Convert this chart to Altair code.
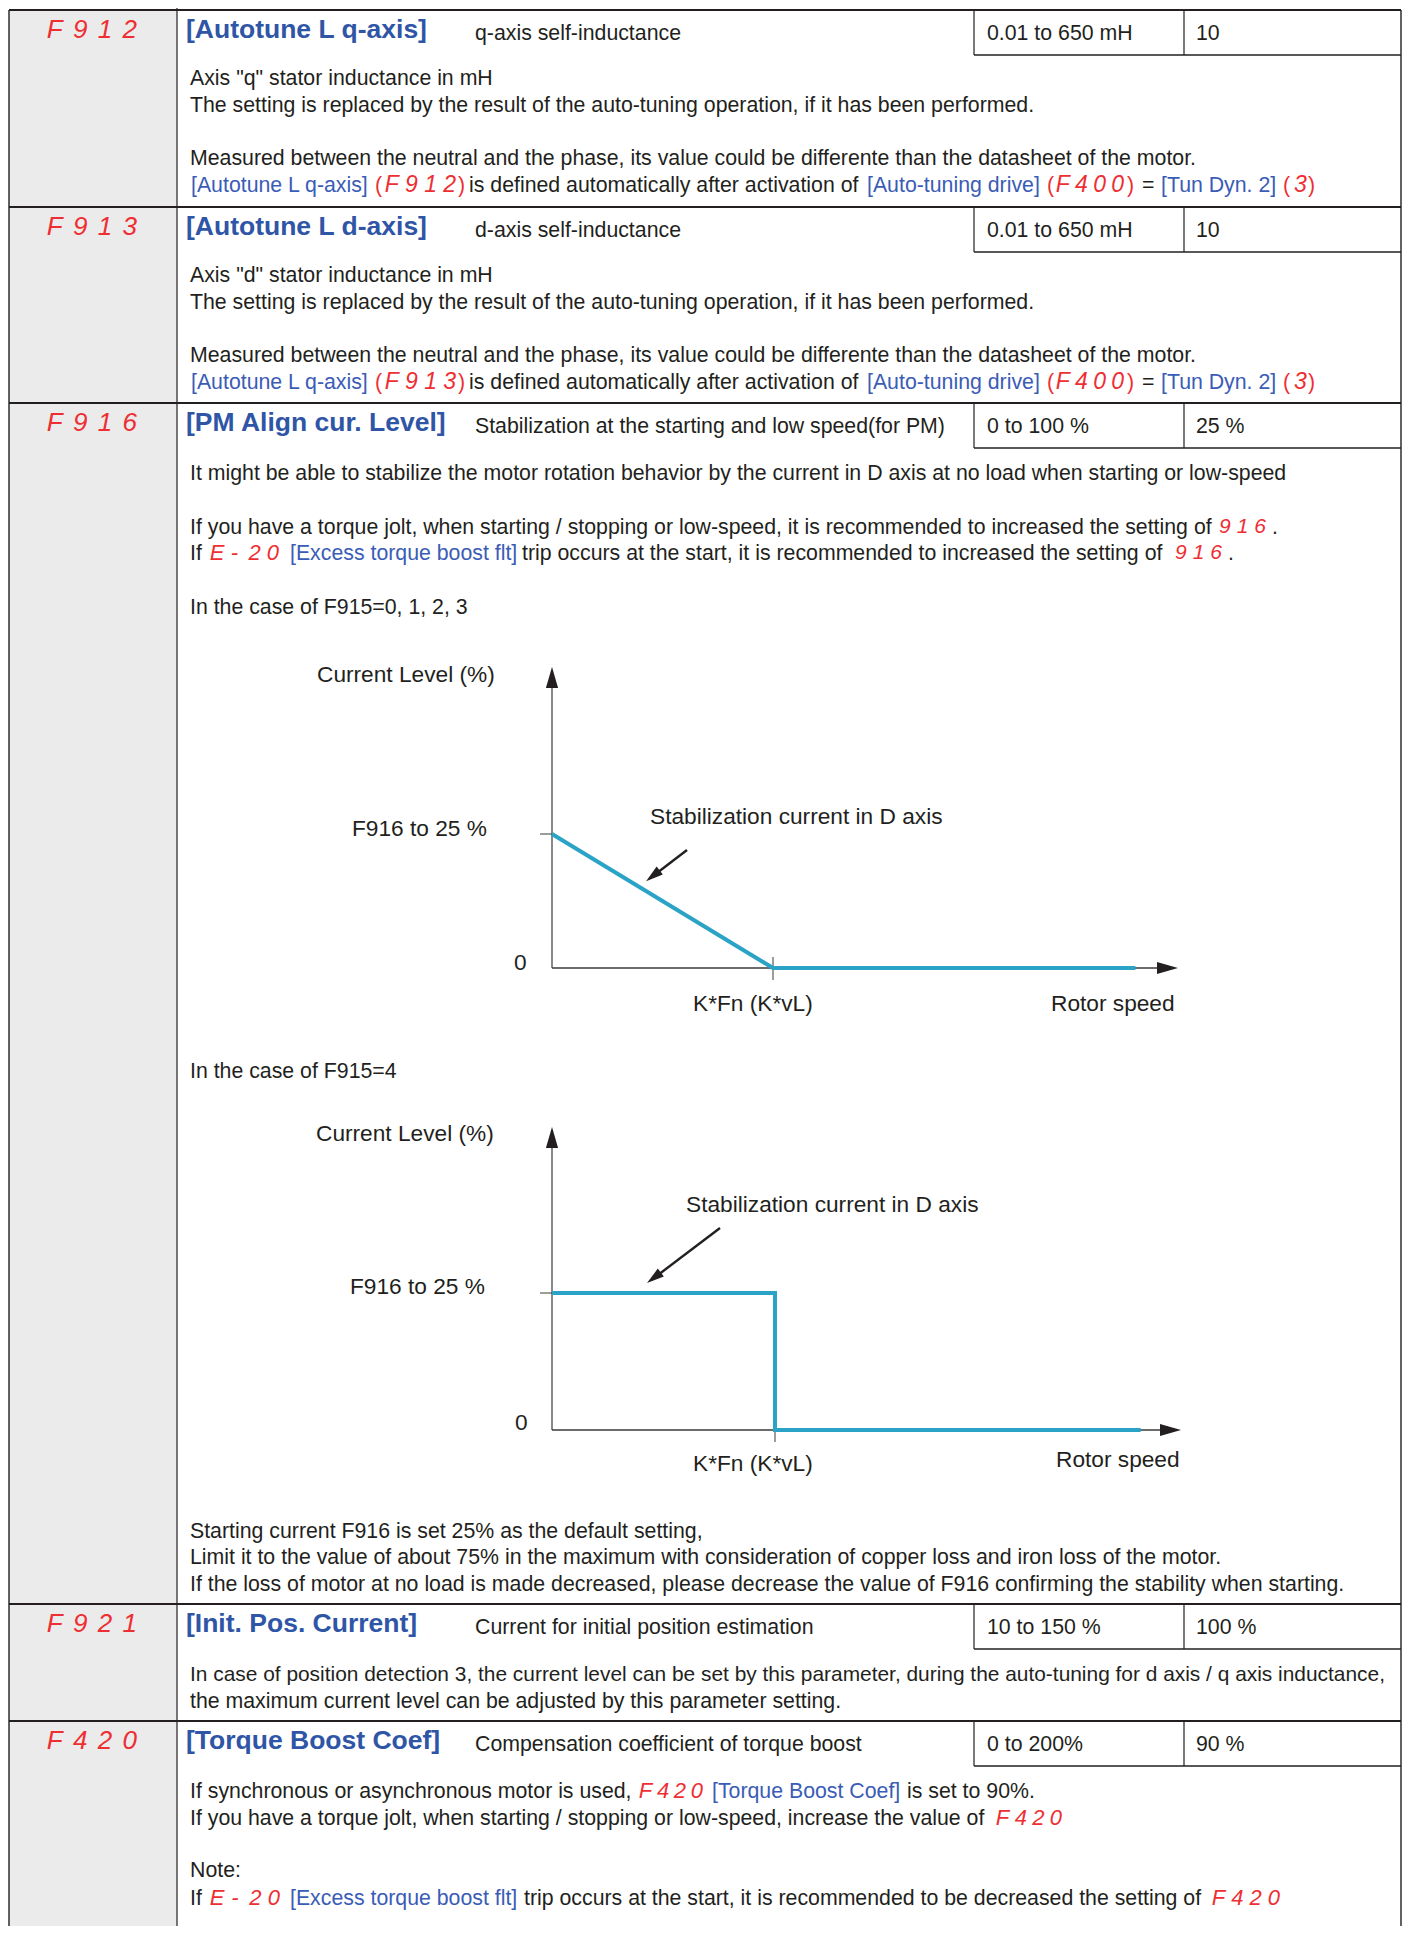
import altair as alt
import pandas as pd

# ---------------- content ----------------
codes = ["F912", "F913", "F916", "F921", "F420"]
titles = ["[Autotune L q-axis]", "[Autotune L d-axis]", "[PM Align cur. Level]",
          "[Init. Pos. Current]", "[Torque Boost Coef]"]
subtitles = ["q-axis self-inductance", "d-axis self-inductance",
             "Stabilization at the starting and low speed(for PM)",
             "Current for initial position estimation",
             "Compensation coefficient of torque boost"]
ranges = ["0.01 to 650 mH", "0.01 to 650 mH", "0 to 100 %", "10 to 150 %", "0 to 200%"]
defaults = ["10", "10", "25 %", "100 %", "90 %"]

# diagram series (speed in units of K*Fn, current level in %)
d1_speed = [0, 1, 2.64]
d1_level = [25, 0, 0]
d2_speed = [0, 1, 1, 2.64]
d2_level = [25, 25, 0, 0]
diag_labels = ["Current Level (%)", "F916 to 25 %", "0", "K*Fn (K*vL)", "Rotor speed",
               "Stabilization current in D axis"]

# ---------------- layout (page pixels) ----------------
row_tops = [10, 207, 403, 1604, 1721]
BLACK = "#231f20"
RED = "#ee2e32"
LINK = "#3a5cb6"
TITLE = "#2f55a6"
TEAL = "#2ba3c6"
BODY = 21.3
TY = 1.5  # vertical nudge for regular text
RIGHT = 1401

texts = []


def seg(t, x, y, kind, size=None):
    style = {"body": ("regular", BLACK, BODY, "left", TY), "link": ("regular", LINK, BODY, "left", TY),
             "paren": ("regular", RED, BODY, "left", TY),
             "title": ("bold", TITLE, 26.5, "left", 2), "diag": ("regular", BLACK, 22.7, "left", TY)}[kind]
    texts.append({"t": t, "x": x, "y": y + style[4], "s": size or style[2], "c": style[1],
                  "k": style[0], "al": style[3]})


def code(chars, x0, x1, y, size):
    # seven-segment style code: each character right-aligned in an evenly spaced cell
    w = 0.56 * size
    n = len(chars)
    pitch = (x1 - x0 - w) / (n - 1) if n > 1 else 0
    for i, ch in enumerate(chars):
        shift = -0.2 * size if ch == "-" else 0
        texts.append({"t": ch, "x": x0 + w + i * pitch + shift, "y": y, "s": size, "c": RED,
                      "k": "italic", "al": "right"})


# header rows
for i, top in enumerate(row_tops):
    code(codes[i], 48, 137, top + 20, 26)
    seg(titles[i], 186, top + 18, "title")
    seg(subtitles[i], 475, top + 22, "body")
    seg(ranges[i], 987, top + 22, "body")
    seg(defaults[i], 1196, top + 22, "body")

# row 1 / row 2 bodies
for top, axis, cd in [(10, "q", "F912"), (207, "d", "F913")]:
    seg('Axis "%s" stator inductance in mH' % axis, 190, top + 67, "body")
    seg("The setting is replaced by the result of the auto-tuning operation, if it has been performed.",
        190, top + 94, "body")
    seg("Measured between the neutral and the phase, its value could be differente than the datasheet of the motor.",
        190, top + 147, "body")
    y = top + 174
    seg("[Autotune L q-axis]", 191, y, "link")
    seg("(", 375, y, "paren")
    code(cd, 386, 456, y + 1, 23)
    seg(")", 458, y, "paren")
    seg("is defined automatically after activation of", 469, y, "body")
    seg("[Auto-tuning drive]", 867, y, "link")
    seg("(", 1047, y, "paren")
    code("F400", 1057, 1124, y + 1, 23)
    seg(")", 1127, y, "paren")
    seg("=", 1142, y, "body")
    seg("[Tun Dyn. 2]", 1161, y, "link")
    seg("(", 1283, y, "paren")
    code("3", 1294, 1307, y + 1, 23)
    seg(")", 1308, y, "paren")

# row 3 body
seg("It might be able to stabilize the motor rotation behavior by the current in D axis at no load when starting or low-speed",
    190, 472, "body")
seg("If you have a torque jolt, when starting / stopping or low-speed, it is recommended to increased the setting of",
    190, 526, "body")
code("916", 1219, 1266, 527, 21)
seg(".", 1272, 526, "body")
seg("If", 190, 552, "body")
code("E-20", 212, 279, 553, 22)
seg("[Excess torque boost flt]", 290, 552, "link")
seg("trip occurs at the start, it is recommended to increased the setting of", 522, 552, "body")
code("916", 1175, 1222, 553, 21)
seg(".", 1228, 552, "body")
seg("In the case of F915=0, 1, 2, 3", 190, 606, "body")
seg("In the case of F915=4", 190, 1070, "body")
seg("Starting current F916 is set 25% as the default setting,", 190, 1530, "body")
seg("Limit it to the value of about 75% in the maximum with consideration of copper loss and iron loss of the motor.",
    190, 1556, "body")
seg("If the loss of motor at no load is made decreased, please decrease the value of F916 confirming the stability when starting.",
    190, 1583, "body")

# row 4 body
seg("In case of position detection 3, the current level can be set by this parameter, during the auto-tuning for d axis / q axis inductance,",
    190, 1673, "body", 20.9)
seg("the maximum current level can be adjusted by this parameter setting.", 190, 1700, "body")

# row 5 body
seg("If synchronous or asynchronous motor is used,", 190, 1790, "body")
code("F420", 640, 703, 1791, 22)
seg("[Torque Boost Coef]", 712, 1790, "link")
seg("is set to 90%.", 907, 1790, "body")
seg("If you have a torque jolt, when starting / stopping or low-speed, increase the value of", 190, 1817, "body")
code("F420", 997, 1062, 1818, 22)
seg("Note:", 190, 1869, "body")
seg("If", 190, 1897, "body")
code("E-20", 212, 280, 1898, 22)
seg("[Excess torque boost flt]", 290, 1897, "link")
seg("trip occurs at the start, it is recommended to be decreased the setting of", 524, 1897, "body")
code("F420", 1213, 1280, 1898, 22)

# diagram labels
for (oy, lx) in [(968, [(317, -295), (352, -141), (514, -7), (693, 34), (1051, 34), (650, -153)]),
                 (1430, [(316, -298), (350, -145), (515, -9), (693, 32), (1056, 28), (686, -227)])]:
    for lab, (x, dy) in zip(diag_labels, lx):
        seg(lab, x, oy + dy, "diag")

tdf = pd.DataFrame(texts)

# ---------------- table lines ----------------
rules = []
for top in row_tops:
    rules.append((9, top, RIGHT, top, 2.0, BLACK))
    rules.append((974, top + 45, RIGHT, top + 45, 1.6, BLACK))
    rules.append((974, top, 974, top + 45, 1.2, BLACK))
    rules.append((1184, top, 1184, top + 45, 1.2, BLACK))
rules.append((9, 10, 9, 1940, 1.4, BLACK))
rules.append((177, 4, 177, 1940, 1.2, BLACK))
rules.append((RIGHT, 10, RIGHT, 1940, 1.4, BLACK))

# diagram axes / ticks / annotation arrows
AX = "#3a3a3a"
for oy, topy, xend, kx, ky, ay0, ay1 in [(968, 678, 1168, 773, 834, (687, 850), (653, 876)),
                                          (1430, 1138, 1171, 775, 1293, (720, 1228), (654, 1278))]:
    rules.append((552, topy, 552, oy, 1.2, AX))
    rules.append((552, oy, xend, oy, 1.4, AX))
    rules.append((540, ky, 552, ky, 1.0, AX))
    rules.append((kx, oy - 11, kx, oy + 12, 1.0, AX))
    rules.append((ay0[0], ay0[1], ay1[0], ay1[1], 2.4, BLACK))
rdf = pd.DataFrame(rules, columns=["x", "y", "x2", "y2", "w", "c"])

heads = pd.DataFrame([
    {"x": 552, "y": 677.5, "a": 0, "s": 441}, {"x": 1167.5, "y": 968, "a": 90, "s": 441},
    {"x": 652.9, "y": 875.8, "a": 232, "s": 300},
    {"x": 552, "y": 1137.5, "a": 0, "s": 441}, {"x": 1170.5, "y": 1430, "a": 90, "s": 441},
    {"x": 653.9, "y": 1277.8, "a": 233, "s": 300},
])

gray = pd.DataFrame([{"x": 9, "x2": 177, "y": 10, "y2": 1940}])

series = pd.DataFrame(
    [{"d": 1, "o": i, "speed": s, "level": l} for i, (s, l) in enumerate(zip(d1_speed, d1_level))] +
    [{"d": 2, "o": i, "speed": s, "level": l} for i, (s, l) in enumerate(zip(d2_speed, d2_level))]
)

# ---------------- chart ----------------
W, H = 1394, 1918
xs = alt.Scale(domain=[8, 8 + W], range=[0, W])
ys = alt.Scale(domain=[8, 8 + H], range=[0, H])


def X(f):
    return alt.X(f, type="quantitative", scale=xs, axis=None)


def Y(f):
    return alt.Y(f, type="quantitative", scale=ys, axis=None)


bg = alt.Chart(gray).mark_rect(color="#ebebeb").encode(
    x=X("x"), x2="x2", y=Y("y"), y2="y2")

lines = alt.Chart(rdf).mark_rule(strokeCap="butt").encode(
    x=X("x"), y=Y("y"), x2="x2", y2="y2",
    strokeWidth=alt.StrokeWidth("w:Q", scale=None),
    color=alt.Color("c:N", scale=None))

curve = alt.Chart(series).transform_calculate(
    px="552 + datum.speed * (datum.d == 1 ? 221 : 223)",
    py="(datum.d == 1 ? 968 : 1430) - datum.level * (datum.d == 1 ? 5.36 : 5.48)",
).mark_line(strokeWidth=4, color=TEAL, strokeCap="butt", strokeJoin="miter").encode(
    x=X("px"), y=Y("py"), order="o:Q", detail="d:N")

arrow = alt.Chart(heads).mark_point(
    shape="M0,-1L0.58,1L-0.58,1Z", filled=True, opacity=1, strokeWidth=0, color=BLACK
).encode(x=X("x"), y=Y("y"), angle=alt.Angle("a:Q", scale=None), size=alt.Size("s:Q", scale=None))


def text_layer(kind, weight, style, align):
    return alt.Chart(tdf).transform_filter(
        (alt.datum.k == kind) & (alt.datum.al == align)
    ).mark_text(
        align=align, baseline="middle", font="Liberation Sans", fontWeight=weight, fontStyle=style
    ).encode(x=X("x"), y=Y("y"), text="t:N",
             size=alt.Size("s:Q", scale=None), color=alt.Color("c:N", scale=None))


chart = alt.layer(
    bg, lines, curve, arrow,
    text_layer("regular", "normal", "normal", "left"),
    text_layer("bold", "bold", "normal", "left"),
    text_layer("italic", "normal", "italic", "right"),
).properties(width=W, height=H, padding=0, autosize="none", background="white"
).configure_view(strokeWidth=0)

chart.save("out.html", embed_options={"renderer": "svg", "actions": False})
